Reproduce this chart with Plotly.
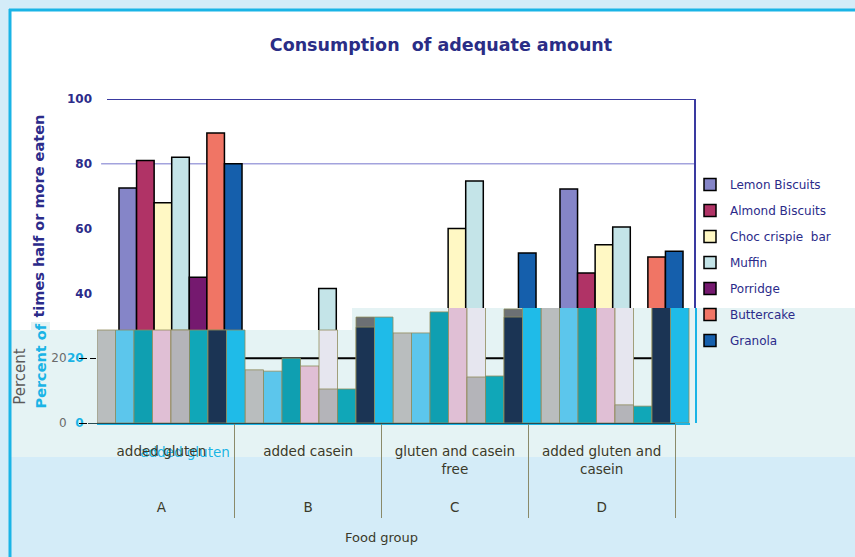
import plotly.graph_objects as go

W, H = 855, 557

# ---------------- data ----------------
groups = ["A", "B", "C", "D"]
foods = ["added gluten", "added casein", "gluten and casein free", "added gluten and casein"]
food_ticks = ["added gluten", "added casein", "gluten and casein<br>free", "added gluten and<br>casein"]

series_names = ["Lemon Biscuits", "Almond Biscuits", "Choc crispie  bar", "Muffin",
                "Porridge", "Buttercake", "Granola"]
lemon = [72.5, 25, 30, 72.2]
almond = [81, 18, 26, 46.3]
choc = [68, 22, 60, 55]
muffin = [82, 41.5, 74.7, 60.5]
porridge = [45, 12, 20, 30]
buttercake = [89.5, 20, 33, 51.2]
granola = [80, 27, 52.5, 53]
series_values = [lemon, almond, choc, muffin, porridge, buttercake, granola]
series_colors = ["#8585c8", "#b03366", "#fff8c4", "#c4e4e8", "#75196f", "#f07565", "#155fac"]

# second (overlaid) panel values
ov_grey = [28.7, 16.4, 27.8, 36]
ov_cyan = [28.7, 16.0, 27.8, 36]
ov_teal = [28.7, 20.0, 34.3, 36]
ov_pink = [28.7, 17.6, 36, 36]
ov_lav = [28.7, 28.7, 36, 36]
ov_grey2 = [28.7, 10.5, 14.2, 5.6]
ov_teal2 = [28.7, 10.5, 14.5, 5.2]
ov_dgrey = [28.7, 32.7, 35.2, 36]
ov_navy = [28.7, 29.6, 32.7, 36]
ov_cyan2 = [28.7, 32.7, 36, 36]
overlay = [  # (values, colour, slot)
    (ov_grey, "#b9bdbe", 0), (ov_cyan, "#5cc6ec", 1), (ov_teal, "#0f9fb1", 2),
    (ov_pink, "#e0bfd5", 3), (ov_lav, "#e6e6ef", 4), (ov_grey2, "#b4b4b9", 4),
    (ov_teal2, "#10a7b8", 5), (ov_dgrey, "#6c7074", 6), (ov_navy, "#1b3454", 6),
    (ov_cyan2, "#1fbbe8", 7),
]

# ---------------- helpers ----------------
def px(x):
    return x / W

def py(y):
    return 1 - y / H

NAVY = "#2b2b8a"
CYAN = "#1ab4e6"
BAND = "#e5f3f4"
DARK = "#3a3a2a"
FONT = "DejaVu Sans"

fig = go.Figure()

# chart 1 bars
for name, vals, col in zip(series_names, series_values, series_colors):
    fig.add_trace(go.Bar(
        x=foods, y=vals, name=name, marker=dict(color=col, line=dict(color="black", width=1.5)),
        xaxis="x", yaxis="y", legendgroup=name,
    ))

# band subplot (decorative, pixel coords)
fig.add_trace(go.Scatter(x=[None], y=[None], xaxis="x2", yaxis="y2", showlegend=False, hoverinfo="skip"))

# overlay bars
nslots = 8
for vals, col, slot in overlay:
    fig.add_trace(go.Bar(
        x=foods, y=vals, xaxis="x3", yaxis="y3", showlegend=False,
        marker=dict(color=col, line=dict(color="#8f8c5c", width=0.8)),
        width=1 / nslots, offset=-0.5 + slot / nslots, hoverinfo="skip",
    ))

# label subplot: food labels (x4) and group letters (x5, overlaid)
fig.add_trace(go.Scatter(
    x=food_ticks, y=[0, 0, 0, 0], xaxis="x4", yaxis="y4", mode="markers",
    marker=dict(opacity=0), showlegend=False, hoverinfo="skip",
))
fig.add_trace(go.Scatter(
    x=groups, y=[0, 0, 0, 0], xaxis="x5", yaxis="y4", mode="markers",
    marker=dict(opacity=0), showlegend=False, hoverinfo="skip",
))

shapes = [
    # white panel
    dict(type="rect", xref="paper", yref="paper", x0=px(11), x1=1, y0=py(457), y1=py(11),
         fillcolor="white", line=dict(width=0), layer="below"),
    # chart-1 grid line at 80, frame top & right
    dict(type="line", xref="x domain", yref="y", x0=-0.01, x1=1, y0=80, y1=80,
         line=dict(color="#a3a3dd", width=1.5), layer="below"),
    dict(type="line", xref="x domain", yref="y", x0=0, x1=1, y0=100, y1=100,
         line=dict(color="#3a3aa0", width=2), layer="below"),
    dict(type="line", xref="x domain", yref="y", x0=1, x1=1, y0=0, y1=100,
         line=dict(color="#3a3aa0", width=2), layer="below"),
    # pale band (in subplot 2, above chart-1 bars)
    dict(type="path", xref="x2", yref="y2",
         path="M 11,457 L 11,330 L 352,330 L 352,308 L 855,308 L 855,457 Z",
         fillcolor=BAND, line=dict(width=0), layer="below"),
    # black reference line at 20 on the overlay
    dict(type="line", xref="x3", yref="y3", x0=0.34, x1=3.5, y0=20, y1=20,
         line=dict(color="black", width=2), layer="below"),
    # cyan right edge of overlay
    dict(type="line", xref="paper", yref="paper", x0=px(696), x1=px(696), y0=py(423), y1=py(308),
         line=dict(color=CYAN, width=2), layer="above"),
    # cyan panel border
    dict(type="line", xref="paper", yref="paper", x0=px(10), x1=px(10), y0=0, y1=py(9),
         line=dict(color=CYAN, width=3), layer="above"),
    dict(type="line", xref="paper", yref="paper", x0=px(9), x1=1, y0=py(10), y1=py(10),
         line=dict(color=CYAN, width=3), layer="above"),
]

annotations = [
    dict(text="<b>Percent of</b>", xref="paper", yref="paper", x=px(40), y=py(411),
         xanchor="center", yanchor="bottom", textangle=-90, showarrow=False,
         font=dict(family=FONT, size=14.5, color=CYAN), bgcolor=BAND, borderpad=1),
]

fig.update_layout(
    width=W, height=H, margin=dict(l=0, r=0, t=0, b=0),
    paper_bgcolor="#d4ecf8", plot_bgcolor="rgba(0,0,0,0)",
    barmode="group", bargap=0.163, bargroupgap=0,
    title=dict(text="<b>Consumption  of adequate amount</b>", x=px(441), xanchor="center",
               y=py(45), yanchor="middle", font=dict(family=FONT, size=17.5, color="#2a2d86")),
    showlegend=True,
    legend=dict(x=px(690), y=py(170), xanchor="left", yanchor="top", traceorder="grouped",
                tracegroupgap=7, itemwidth=30, bgcolor="rgba(0,0,0,0)",
                font=dict(family=FONT, size=12, color=NAVY)),
    shapes=shapes, annotations=annotations,
    xaxis=dict(domain=[px(107), px(695)], showticklabels=False, showgrid=False, zeroline=False,
               showline=False, automargin=False, anchor="y"),
    yaxis=dict(domain=[py(423), py(99)], range=[0, 100], tickvals=[0, 20, 40, 60, 80, 100],
               showgrid=False, zeroline=False, showline=False, automargin=False, anchor="x",
               tickfont=dict(family=FONT, size=12, color=NAVY, weight="bold"), ticklabelstandoff=14,
               title=dict(text="<b>Percent of times half or more eaten</b>", standoff=18,
                          font=dict(family=FONT, size=14.5, color=NAVY))),
    xaxis2=dict(domain=[0, 1], range=[0, W], visible=False, anchor="y2"),
    yaxis2=dict(domain=[0, 1], range=[H, 0], visible=False, anchor="x2"),
    xaxis3=dict(domain=[px(97), px(690)], showgrid=False, zeroline=False, automargin=False,
                anchor="y3", showline=True, linecolor=CYAN, linewidth=2,
                tickvals=[foods[0]], ticktext=["added gluten"], ticks="",
                tickfont=dict(family=FONT, size=13.5, color=CYAN), ticklabelstandoff=16,
                ticklabelshift=14),
    yaxis3=dict(domain=[py(423), py(308)], range=[0, 35.5], tickvals=[0, 20], showgrid=False,
                zeroline=False, automargin=False, anchor="x3", ticks="outside", ticklen=6,
                tickcolor="black", ticklabelstandoff=4,
                tickfont=dict(family=FONT, size=12, color=CYAN, weight="bold")),
    xaxis4=dict(domain=[px(88), px(675)], type="category", range=[-0.5, 3.5], anchor="y4",
                automargin=False, showgrid=False, zeroline=False, showline=True,
                linecolor="#2a4a50", linewidth=1, ticks="", ticklabelstandoff=16,
                tickfont=dict(family=FONT, size=13.5, color=DARK),
                title=dict(text="Food group", standoff=57, font=dict(family=FONT, size=13, color=DARK))),
    xaxis5=dict(domain=[px(88), px(675)], type="category", range=[-0.499, 3.5], anchor="y4",
                overlaying="x4", side="bottom", automargin=False, showgrid=False, zeroline=False,
                showline=False, ticks="outside", tickson="boundaries", ticklen=94,
                tickcolor="#8a8a6a", tickwidth=1, ticklabelstandoff=74,
                tickfont=dict(family=FONT, size=13.5, color=DARK)),
    yaxis4=dict(domain=[py(423), py(330)], range=[0, 28.7], tickvals=[0, 20], showgrid=False,
                zeroline=False, automargin=False, anchor="x4", ticks="outside", ticklen=8,
                tickcolor="black", ticklabelstandoff=10,
                tickfont=dict(family=FONT, size=12, color="#6a6a6a"),
                title=dict(text="Percent", standoff=22, font=dict(family=FONT, size=15, color="#5a5a5a"))),
)

fig.write_html("out.html")
